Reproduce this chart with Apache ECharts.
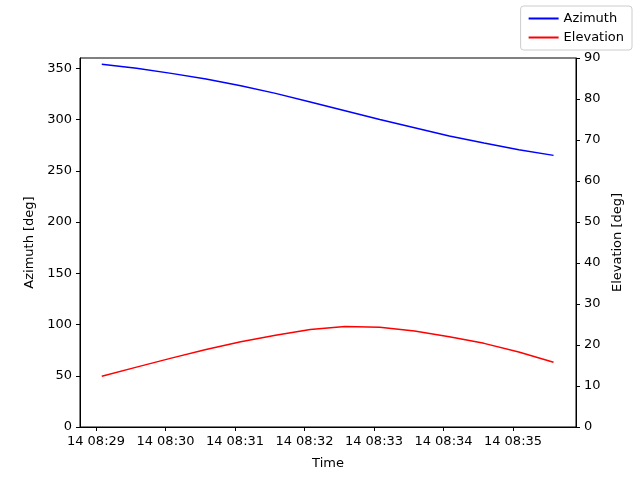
<!DOCTYPE html>
<html><head><meta charset="utf-8">
<script src="https://cdn.jsdelivr.net/npm/echarts@6/dist/echarts.min.js"></script>
<style>html,body{margin:0;padding:0;background:#fff}#c{width:640px;height:480px}</style>
</head><body><div id="c"></div>
<script>
// seconds after 08:29:00
const times = [5,35,65,95,125,155,185,215,245,275,305,335,365,395];
const azimuth = [354,350,345,339.5,333,325.5,317,308.5,300,292,284,277,270.5,265];
const elevation = [12.4,14.6,16.8,18.9,20.8,22.4,23.8,24.5,24.3,23.4,22.0,20.4,18.3,15.8];
const tickSecs = [0,60,120,180,240,300,360];
const tickLabels = ['14 08:29','14 08:30','14 08:31','14 08:32','14 08:33','14 08:34','14 08:35'];
const azTicks = [0,50,100,150,200,250,300,350];

const font = {fontFamily:'DejaVu Sans', fontSize:13, color:'#000'};
const ch = echarts.init(document.getElementById('c'));
ch.setOption({
  animation:false,
  textStyle:{fontFamily:'DejaVu Sans'},
  grid:{left:80,right:64,top:58,bottom:53,containLabel:false,show:true,borderColor:'#000',borderWidth:1,backgroundColor:'transparent'},
  legend:{right:8,top:6,orient:'vertical',itemWidth:30,itemHeight:2,itemGap:6,
    borderColor:'#ccc',borderWidth:1,borderRadius:3,padding:[6,8],
    textStyle:{...font},icon:'rect',
    data:['Azimuth','Elevation']},
  xAxis:{type:'value',min:-13.8,max:414.4,name:'Time',nameLocation:'middle',nameGap:30,
    nameTextStyle:{...font},
    axisLine:{onZero:false,lineStyle:{color:'#000'}},splitLine:{show:false},
    axisTick:{show:true,customValues:tickSecs,length:4,lineStyle:{color:'#000'}},
    axisLabel:{...font,customValues:tickSecs,formatter:v=>tickLabels[tickSecs.indexOf(v)]||''}},
  yAxis:[{type:'value',min:0,max:360,name:'Azimuth [deg]',nameLocation:'middle',nameGap:42,
    nameTextStyle:{...font},
    axisLine:{show:true,onZero:false,lineStyle:{color:'#000'}},splitLine:{show:false},
    axisTick:{show:true,customValues:azTicks,length:4,lineStyle:{color:'#000'}},
    axisLabel:{...font,customValues:azTicks}},
   {type:'value',min:0,max:90,interval:10,position:'right',name:'Elevation [deg]',nameLocation:'middle',nameGap:32,
    nameTextStyle:{...font},
    axisLine:{show:true,onZero:false,lineStyle:{color:'#000'}},splitLine:{show:false},
    axisTick:{show:true,length:4,lineStyle:{color:'#000'}},
    axisLabel:{...font}}],
  series:[
    {name:'Azimuth',type:'line',yAxisIndex:0,showSymbol:false,color:'#0000ff',lineStyle:{width:1.5,color:'#0000ff'},
      data:times.map((t,i)=>[t,azimuth[i]])},
    {name:'Elevation',type:'line',yAxisIndex:1,showSymbol:false,color:'#ff0000',lineStyle:{width:1.5,color:'#ff0000'},
      data:times.map((t,i)=>[t,elevation[i]])}
  ]
});
</script></body></html>
